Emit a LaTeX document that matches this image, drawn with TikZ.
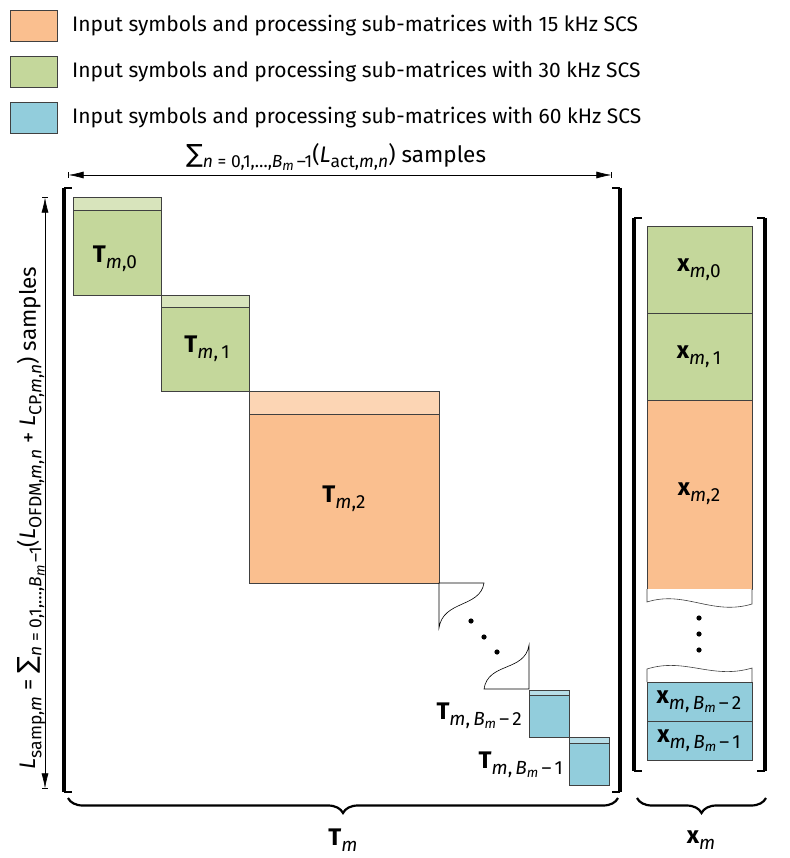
\documentclass[tikz,border=0pt]{standalone}
\usepackage{fontspec}
\setmainfont{Fira Sans}
\newfontfamily\symfnt{DejaVu Sans}
\usetikzlibrary{arrows.meta,decorations.pathreplacing}

\definecolor{orng}{HTML}{FABF8F}
\definecolor{orngLt}{HTML}{FCD5B4}
\definecolor{grn}{HTML}{C4D79B}
\definecolor{grnLt}{HTML}{D8E4BC}
\definecolor{blu}{HTML}{92CDDC}
\definecolor{bluLt}{HTML}{B7DEE8}

% subscripts: dimension labels, block labels, second level
\newcommand{\sbs}[1]{\raisebox{-0.45ex}{\fontsize{17.5}{17.5}\selectfont #1}}
\newcommand{\lsub}[1]{\raisebox{-0.45ex}{\fontsize{19}{19}\selectfont #1}}
\newcommand{\ssbs}[1]{\raisebox{-0.35ex}{\fontsize{13.5}{13.5}\selectfont #1}}
\newcommand{\bigsum}{{\symfnt\fontsize{25}{25}\selectfont ∑}}

\tikzset{
  blk/.style={draw=black!75, line width=0.6pt},
  brkline/.style={line width=4pt},
  brkserif/.style={line width=1.6pt},
  lbl/.style={font=\fontsize{24}{26}\selectfont, inner sep=0pt},
  dimlbl/.style={font=\fontsize{22.5}{24}\selectfont, inner sep=0pt},
  dimarrow/.style={|<->|, line width=0.6pt},
  bracebelow/.style={decorate, decoration={brace, mirror, amplitude=15pt}, line width=2.2pt},
}

\begin{document}
\begin{tikzpicture}[x=1pt,y=-1pt,>={Latex[length=15pt,width=7pt]}]
    \useasboundingbox (0,0) rectangle (789,858);

    % Legend
    \foreach \c/\f [count=\i] in {orng/15, grn/30, blu/60} {
        \draw[blk, fill=\c] (10,{10+46*(\i-1)}) rectangle ++(47,31);
        \node[anchor=west, inner sep=0pt, font=\fontsize{21}{23}\selectfont] (leg\i) at (72,{26+46*(\i-1)})
            {Input symbols and processing sub-matrices with \f\ kHz SCS};
    }

    % Dimension arrows
    \coordinate (topL) at (68,175);
    \coordinate (topR) at (612,175);
    \draw[dimarrow] (topL) -- (topR);
    \node[dimlbl] (topLbl) at (336,157)
        {\bigsum\sbs{\textit{n} = 0,1,\ldots,\textit{B}\ssbs{\textit{m}}\,–1}(\textit{L}\sbs{act,\textit{m},\textit{n}}) samples};

    \coordinate (sideT) at (45,197);
    \coordinate (sideB) at (45,789);
    \draw[dimarrow] (sideT) -- (sideB);
    \node[dimlbl, rotate=90] (sideLbl) at (31,518)
        {\textit{L}\sbs{samp,\textit{m}} = \bigsum\sbs{\textit{n} = 0,1,\ldots,\textit{B}\ssbs{\textit{m}}\,–1}(\textit{L}\sbs{OFDM,\textit{m},\textit{n}} + \textit{L}\sbs{CP,\textit{m},\textit{n}}) samples};

    % Brackets of T
    \draw[brkline] (64,188) -- (64,792);
    \draw[brkserif] (64,188) -- (72,188);
    \draw[brkserif] (64,792) -- (72,792);
    \draw[brkline] (620,188) -- (620,792);
    \draw[brkserif] (620,188) -- (612,188);
    \draw[brkserif] (620,792) -- (612,792);

    % Sub-matrices
    \draw[blk, fill=grn] (73,197) rectangle (161,295);
    \draw[blk, fill=grnLt] (73,197) rectangle (161,210);
    \node[lbl] (T0) at (115,259) {{\bfseries T}\lsub{\textit{m},0}};

    \draw[blk, fill=grn] (161,295) rectangle (249,391);
    \draw[blk, fill=grnLt] (161,295) rectangle (249,307);
    \node[lbl] (T1) at (207,349) {{\bfseries T}\lsub{\textit{m},\,1}};

    \draw[blk, fill=orng] (249,391) rectangle (439,583);
    \draw[blk, fill=orngLt] (249,391) rectangle (439,414);
    \node[lbl] (T2) at (344,499) {{\bfseries T}\lsub{\textit{m},2}};

    % Break
    \draw[line width=0.6pt, fill=white] (439,583) -- (484,583) .. controls (480,608) and (443,600) .. (439,628) -- cycle;
    \draw[line width=0.6pt, fill=white] (529,689) -- (484,689) .. controls (488,662) and (525,672) .. (529,645) -- cycle;
    \fill (471,621) circle (2.6pt);
    \fill (484,637) circle (2.6pt);
    \fill (497,652) circle (2.6pt);

    \draw[blk, fill=blu] (529,690) rectangle (569,737);
    \draw[blk, fill=bluLt] (529,690) rectangle (569,695);
    \node[lbl, anchor=east] (Tb2) at (522,716) {{\bfseries T}\lsub{\textit{m},\,\textit{B}\ssbs{\textit{m}}\,–\,2}};

    \draw[blk, fill=blu] (569,737) rectangle (609,785);
    \draw[blk, fill=bluLt] (569,737) rectangle (609,743);
    \node[lbl, anchor=east] (Tb1) at (563,765) {{\bfseries T}\lsub{\textit{m},\,\textit{B}\ssbs{\textit{m}}\,–\,1}};

    % Brackets of x
    \draw[brkline] (634,218) -- (634,771);
    \draw[brkserif] (634,218) -- (642,218);
    \draw[brkserif] (634,771) -- (642,771);
    \draw[brkline] (765,218) -- (765,771);
    \draw[brkserif] (765,218) -- (757,218);
    \draw[brkserif] (765,771) -- (757,771);

    % Vector parts
    \draw[blk, fill=grn] (647,226) rectangle (752,313);
    \node[lbl] (x0) at (699,270) {{\bfseries x}\lsub{\textit{m},0}};
    \draw[blk, fill=grn] (647,313) rectangle (752,400);
    \node[lbl] (x1) at (699,357) {{\bfseries x}\lsub{\textit{m},\,1}};
    \draw[blk, fill=orng] (647,400) rectangle (752,589);
    \node[lbl] (x2) at (699,494) {{\bfseries x}\lsub{\textit{m},2}};

    \draw[blk, fill=white] (647,589) -- (647,602) .. controls (685,590) and (712,616) .. (752,604) -- (752,589);
    \fill (699,618) circle (2.6pt);
    \fill (699,634) circle (2.6pt);
    \fill (699,650) circle (2.6pt);
    \draw[blk, fill=white] (647,682) -- (647,669) .. controls (685,657) and (712,680) .. (752,668) -- (752,682);

    \draw[blk, fill=blu] (647,682) rectangle (752,721);
    \node[lbl] (xb2) at (699,702) {{\bfseries x}\lsub{\textit{m},\,\textit{B}\ssbs{\textit{m}}\,–\,2}};
    \draw[blk, fill=blu] (647,721) rectangle (752,760);
    \node[lbl] (xb1) at (699,741) {{\bfseries x}\lsub{\textit{m},\,\textit{B}\ssbs{\textit{m}}\,–\,1}};

    % Braces
    \draw[bracebelow] (68,798) -- (618,798);
    \node[lbl] (Tm) at (343,840) {{\bfseries T}\lsub{\textit{m}}};
    \draw[bracebelow] (637,798) -- (766,798);
    \node[lbl] (xm) at (701,840) {{\bfseries x}\lsub{\textit{m}}};
\end{tikzpicture}
\end{document}
